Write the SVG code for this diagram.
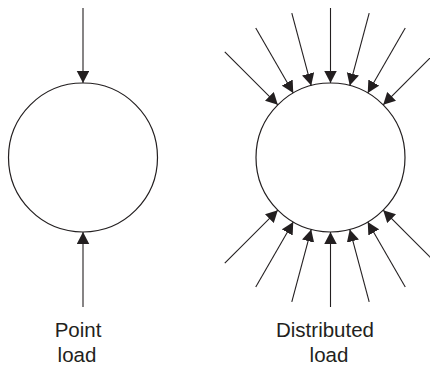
<svg xmlns="http://www.w3.org/2000/svg" width="430" height="365" viewBox="0 0 430 365">
<defs>
<style>
.body{fill:none;stroke:#231f20;stroke-width:1.2}
.load{stroke:#231f20;stroke-width:1.1;fill:none;marker-end:url(#ah)}
.lbl{font-family:"Liberation Sans",Arial,sans-serif;font-size:20.5px;fill:#231f20;text-anchor:middle}
</style>
<marker id="ah" markerUnits="userSpaceOnUse" markerWidth="12" markerHeight="13" refX="12" refY="6.25" orient="auto">
<path d="M0,0 L12,6.25 L0,12.5 z" fill="#231f20"/>
</marker>
</defs>
<rect width="430" height="365" fill="#fff"/>
<g id="point-load">
<circle class="body" cx="83" cy="157.5" r="74.5"/>
<text class="lbl" x="78" y="337">Point</text>
<text class="lbl" x="77" y="362">load</text>
</g>
<g id="distributed-load">
<circle class="body" cx="330.5" cy="157.5" r="74.5"/>
<text class="lbl" x="325" y="337">Distributed</text>
<text class="lbl" x="329" y="362">load</text>
</g>
<g id="connectors">
<line class="load" x1="83" y1="8" x2="83" y2="83"/>
<line class="load" x1="83" y1="307" x2="83" y2="232"/>
<line class="load" x1="224.79" y1="51.79" x2="277.82" y2="104.82"/>
<line class="load" x1="255.75" y1="28.03" x2="293.25" y2="92.98"/>
<line class="load" x1="291.81" y1="13.10" x2="311.22" y2="85.54"/>
<line class="load" x1="330.5" y1="8" x2="330.5" y2="83"/>
<line class="load" x1="369.19" y1="13.10" x2="349.78" y2="85.54"/>
<line class="load" x1="405.25" y1="28.03" x2="367.75" y2="92.98"/>
<line class="load" x1="436.21" y1="51.79" x2="383.18" y2="104.82"/>
<line class="load" x1="224.79" y1="263.21" x2="277.82" y2="210.18"/>
<line class="load" x1="255.75" y1="286.97" x2="293.25" y2="222.02"/>
<line class="load" x1="291.81" y1="301.90" x2="311.22" y2="229.46"/>
<line class="load" x1="330.5" y1="307" x2="330.5" y2="232"/>
<line class="load" x1="369.19" y1="301.90" x2="349.78" y2="229.46"/>
<line class="load" x1="405.25" y1="286.97" x2="367.75" y2="222.02"/>
<line class="load" x1="436.21" y1="263.21" x2="383.18" y2="210.18"/>
</g>
</svg>
